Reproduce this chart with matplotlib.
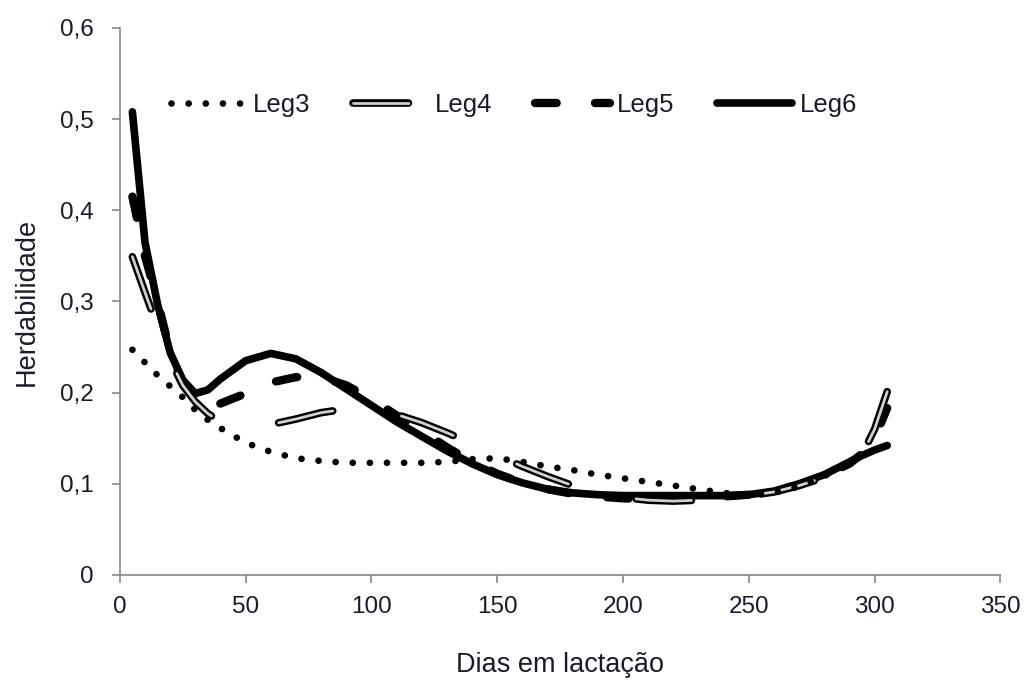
import matplotlib
matplotlib.use('Agg')
import matplotlib.pyplot as plt
from matplotlib.legend_handler import HandlerTuple

plt.rcParams['font.family'] = ['Liberation Sans', 'DejaVu Sans']

# days in milk
dias = [5, 10, 15, 20, 25, 30, 35, 40, 50, 60, 70, 80, 90, 100, 110, 120,
        130, 140, 150, 160, 170, 180, 190, 200, 210, 220, 230, 240, 250,
        260, 270, 280, 290, 295, 300, 305]

leg3 = [0.247, 0.233, 0.219, 0.207, 0.195, 0.181, 0.170, 0.161, 0.145, 0.135,
        0.128, 0.125, 0.123, 0.123, 0.123, 0.123, 0.124, 0.127, 0.128, 0.124,
        0.119, 0.115, 0.110, 0.106, 0.102, 0.098, 0.094, 0.090, 0.088, 0.090,
        0.097, 0.108, 0.125, 0.132, 0.137, 0.140]
leg4 = [0.349, 0.310, 0.272, 0.236, 0.208, 0.190, 0.177, 0.168, 0.163, 0.165,
        0.171, 0.178, 0.182, 0.182, 0.176, 0.167, 0.156, 0.144, 0.131, 0.119,
        0.108, 0.098, 0.090, 0.085, 0.082, 0.081, 0.082, 0.084, 0.087, 0.091,
        0.098, 0.107, 0.120, 0.132, 0.160, 0.201]
leg5 = [0.415, 0.350, 0.300, 0.245, 0.210, 0.193, 0.187, 0.188, 0.199, 0.211,
        0.217, 0.217, 0.208, 0.193, 0.175, 0.158, 0.140, 0.124, 0.111, 0.101,
        0.094, 0.089, 0.086, 0.084, 0.083, 0.083, 0.084, 0.086, 0.088, 0.092,
        0.099, 0.109, 0.122, 0.133, 0.150, 0.183]
leg6 = [0.508, 0.365, 0.297, 0.244, 0.214, 0.199, 0.203, 0.215, 0.235, 0.243,
        0.237, 0.222, 0.204, 0.186, 0.168, 0.152, 0.136, 0.122, 0.110, 0.101,
        0.094, 0.090, 0.088, 0.087, 0.087, 0.087, 0.087, 0.087, 0.088, 0.092,
        0.100, 0.110, 0.124, 0.131, 0.137, 0.142]

xticks = [0, 50, 100, 150, 200, 250, 300, 350]
yticks = [0, 0.1, 0.2, 0.3, 0.4, 0.5, 0.6]

txt_color = '#1a1a2a'
axis_color = '#888888'

fig = plt.figure(figsize=(10.24, 6.82), dpi=100)
ax = fig.add_axes([0.117, 0.157, 0.860, 0.802])

# Leg6 - solid heavy
l6, = ax.plot(dias, leg6, color='black', lw=5.5, solid_capstyle='round',
              solid_joinstyle='round', zorder=3)
# Leg5 - heavy short dashes
l5, = ax.plot(dias, leg5, color='black', lw=6, dash_capstyle='round',
              dashes=(2.6, 4.6), zorder=4)
# Leg4 - hollow long dashes: black outline with a light core, same pattern in points
on4, off4 = 39.9, 50.1
l4a, = ax.plot(dias, leg4, color='black', lw=5.5, dash_capstyle='round',
               dashes=(on4 / 5.5, off4 / 5.5), zorder=5)
l4b, = ax.plot(dias, leg4, color='#d0d0d0', lw=2, dash_capstyle='round',
               dashes=(on4 / 2, off4 / 2), zorder=6)
# Leg3 - round dots
l3, = ax.plot(dias, leg3, color='black', lw=4.8, dash_capstyle='round',
              dashes=(0.01, 2.56), zorder=7)

ax.set_xlim(0, 350)
ax.set_ylim(0, 0.6)
ax.set_xticks(xticks)
ax.set_yticks(yticks)
ax.set_xticklabels([str(v) for v in xticks])
ax.set_yticklabels([('%g' % v).replace('.', ',') for v in yticks])

for side in ['top', 'right']:
    ax.spines[side].set_visible(False)
for side in ['left', 'bottom']:
    ax.spines[side].set_color(axis_color)
    ax.spines[side].set_linewidth(1.2)
ax.tick_params(axis='both', direction='out', length=6, width=1.2,
               color=axis_color, labelsize=17.5, labelcolor=txt_color)
ax.tick_params(axis='y', pad=13)
ax.tick_params(axis='x', pad=9)

ax.set_xlabel('Dias em lactação', fontsize=19.5, color=txt_color, labelpad=25)
ax.set_ylabel('Herdabilidade', fontsize=19.5, color=txt_color, labelpad=14)

leg = ax.legend([l3, (l4a, l4b), l5, l6], ['Leg3', 'Leg4', 'Leg5', 'Leg6'],
                handler_map={tuple: HandlerTuple(ndivide=1)},
                ncol=4, frameon=False, fontsize=18.5, loc='center left',
                bbox_to_anchor=(0.058, 0.86), borderpad=0, borderaxespad=0,
                handlelength=2.9, handletextpad=0.3, columnspacing=1.65,
                labelcolor=txt_color)

fig.savefig('out.png', dpi=100, facecolor='white')
